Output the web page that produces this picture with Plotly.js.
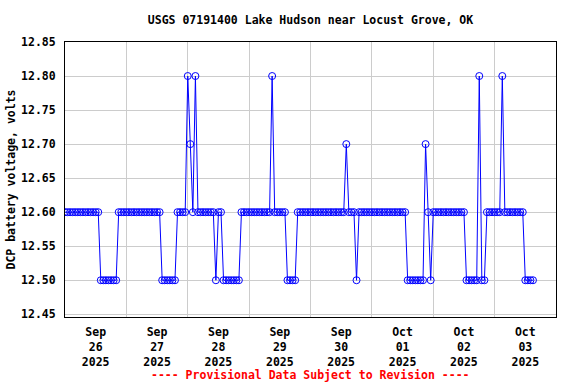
<!DOCTYPE html>
<html>
<head>
<meta charset="utf-8">
<script src="https://cdn.plot.ly/plotly-3.0.1.min.js"></script>
<style>html,body{margin:0;padding:0;background:#fff;}#chart{width:576px;height:384px;}</style>
</head>
<body>
<div id="chart"></div>
<script>
// Hourly readings starting Sep 26 2025 00:00
var startTime = "2025-09-26T00:00:00";
var voltage = [
  12.6,12.6,12.6,12.6,12.6,12.6,12.6,12.6,12.6,12.6,12.6,12.6,12.6,12.6,
  12.5,12.5,12.5,12.5,12.5,12.5,12.5,
  12.6,12.6,12.6,12.6,12.6,12.6,12.6,12.6,12.6,12.6,12.6,12.6,12.6,12.6,12.6,12.6,12.6,
  12.5,12.5,12.5,12.5,12.5,12.5,
  12.6,12.6,12.6,12.6,
  12.8,12.7,12.6,12.8,
  12.6,12.6,12.6,12.6,12.6,12.6,12.6,
  12.5,
  12.6,12.6,
  12.5,12.5,12.5,12.5,12.5,12.5,12.5,
  12.6,12.6,12.6,12.6,12.6,12.6,12.6,12.6,12.6,12.6,12.6,12.6,
  12.8,
  12.6,12.6,12.6,12.6,12.6,
  12.5,12.5,12.5,12.5,
  12.6,12.6,12.6,12.6,12.6,12.6,12.6,12.6,12.6,12.6,12.6,12.6,12.6,12.6,12.6,12.6,12.6,12.6,12.6,
  12.7,
  12.6,12.6,12.6,
  12.5,
  12.6,12.6,12.6,12.6,12.6,12.6,12.6,12.6,12.6,12.6,12.6,12.6,12.6,12.6,12.6,12.6,12.6,12.6,12.6,
  12.5,12.5,12.5,12.5,12.5,12.5,12.5,
  12.7,
  12.6,
  12.5,
  12.6,12.6,12.6,12.6,12.6,12.6,12.6,12.6,12.6,12.6,12.6,12.6,12.6,
  12.5,12.5,12.5,12.5,12.5,
  12.8,
  12.5,12.5,
  12.6,12.6,12.6,12.6,12.6,12.6,
  12.8,
  12.6,12.6,12.6,12.6,12.6,12.6,12.6,12.6,
  12.5,12.5,12.5,12.5
];
var yTicks = [12.45,12.50,12.55,12.60,12.65,12.70,12.75,12.80,12.85];
var titleText = "USGS 07191400 Lake Hudson near Locust Grove, OK";
var yTitle = "DCP battery voltage, volts";
var footText = "---- Provisional Data Subject to Revision ----";

var t0 = new Date(startTime + "Z").getTime();
function fmt(ms){ var d=new Date(ms); return d.toISOString().slice(0,19).replace("T"," "); }
var times = voltage.map(function(v,i){ return fmt(t0 + i*3600000); });

var F = {family:"DejaVu Sans Mono, monospace", size:11.5, color:"#000", weight:"bold"};

var trace = {
  x: times, y: voltage, type:"scatter", mode:"lines+markers",
  line:{color:"#0000ff", width:1},
  marker:{symbol:"circle-open", size:7, color:"#0000ff", line:{width:1, color:"#0000ff"}},
  hoverinfo:"skip"
};

var layout = {
  width:576, height:384,
  margin:{l:65, r:20, t:42, b:67},
  paper_bgcolor:"#fff", plot_bgcolor:"#fff",
  showlegend:false,
  font:F,
  title:{text:titleText, font:F, x:0.5, xref:"paper", y:20, yref:"container", yanchor:"middle"},
  xaxis:{
    type:"date",
    range:["2025-09-26 00:00:00","2025-10-04 00:00:00"],
    tickmode:"linear", tick0:"2025-09-26", dtick:86400000,
    ticklabelmode:"period", tickformat:"%b<br>%d<br>%Y",
    showgrid:true, gridcolor:"#cccccc", gridwidth:1,
    showline:true, mirror:true, linecolor:"#000", linewidth:1,
    ticks:"", ticklabelstandoff:4,
    tickfont:F, zeroline:false
  },
  yaxis:{
    range:[12.446,12.85],
    tickmode:"array", tickvals:yTicks, ticktext:yTicks.map(function(v){return v.toFixed(2);}),
    showgrid:true, gridcolor:"#cccccc", gridwidth:1,
    showline:true, mirror:true, linecolor:"#000", linewidth:1,
    ticks:"", ticklabelstandoff:6,
    tickfont:F, zeroline:false,
    title:{text:yTitle, font:F, standoff:3}
  },
  annotations:[{
    text:footText, xref:"paper", yref:"paper", x:0.5, y:0, yshift:-58, xanchor:"center", yanchor:"middle",
    showarrow:false, font:{family:F.family, size:11.5, color:"#ff0000", weight:"bold"}
  }]
};
layout.title.y = 0.948;

Plotly.newPlot("chart",[trace],layout,{staticPlot:true, displayModeBar:false});
</script>
</body>
</html>
